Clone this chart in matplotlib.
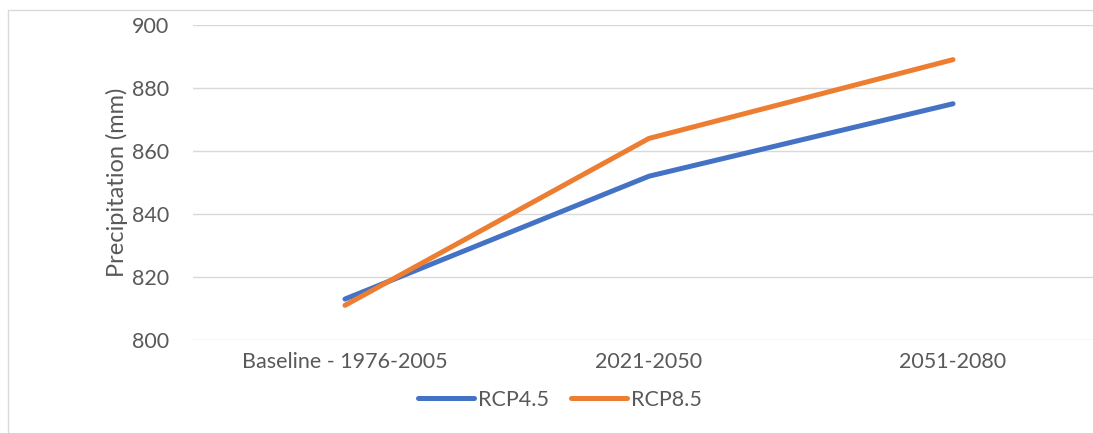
import matplotlib.pyplot as plt
from matplotlib.patches import Rectangle

periods = ['Baseline - 1976-2005', '2021-2050', '2051-2080']
rcp45 = [813, 852, 875]
rcp85 = [811, 864, 889]
yticks = [800, 820, 840, 860, 880, 900]

plt.rcParams['font.family'] = ['Lato', 'DejaVu Sans']
grey = '#595959'

fig = plt.figure(figsize=(10.93, 4.33), dpi=100)
ax = fig.add_axes([193/1093, 1 - 340/433, (1105 - 193)/1093, (340 - 25)/433])

x = list(range(len(periods)))
ax.plot(x, rcp45, color='#4472C4', lw=3.6, solid_capstyle='round', label='RCP4.5')
ax.plot(x, rcp85, color='#ED7D31', lw=3.6, solid_capstyle='round', label='RCP8.5')

ax.set_xlim(-0.5, 2.5)
ax.set_ylim(800, 900)
ax.set_yticks(yticks)
ax.set_xticks(x)
ax.set_xticklabels(periods)
ax.tick_params(length=0, labelsize=15.5, labelcolor=grey, pad=9)
ax.tick_params(axis='y', pad=17)
ax.grid(axis='y', color='#d9d9d9', lw=1)
ax.set_axisbelow(True)
for s in ax.spines.values():
    s.set_visible(False)
ax.set_ylabel('Precipitation (mm)', fontsize=17, color=grey, labelpad=3)

fig.legend(loc='center', bbox_to_anchor=(560/1093, 1 - 400/433), ncol=2,
           frameon=False, fontsize=15.5, labelcolor=grey, handlelength=2.6,
           handletextpad=0.2, columnspacing=1.0)

fig.patches.append(Rectangle((8/1093, -0.05), 1.1, 1 - 10/433 + 0.05,
                             transform=fig.transFigure, fill=False,
                             edgecolor='#d9d9d9', lw=1))

fig.savefig('out.png', dpi=100)
